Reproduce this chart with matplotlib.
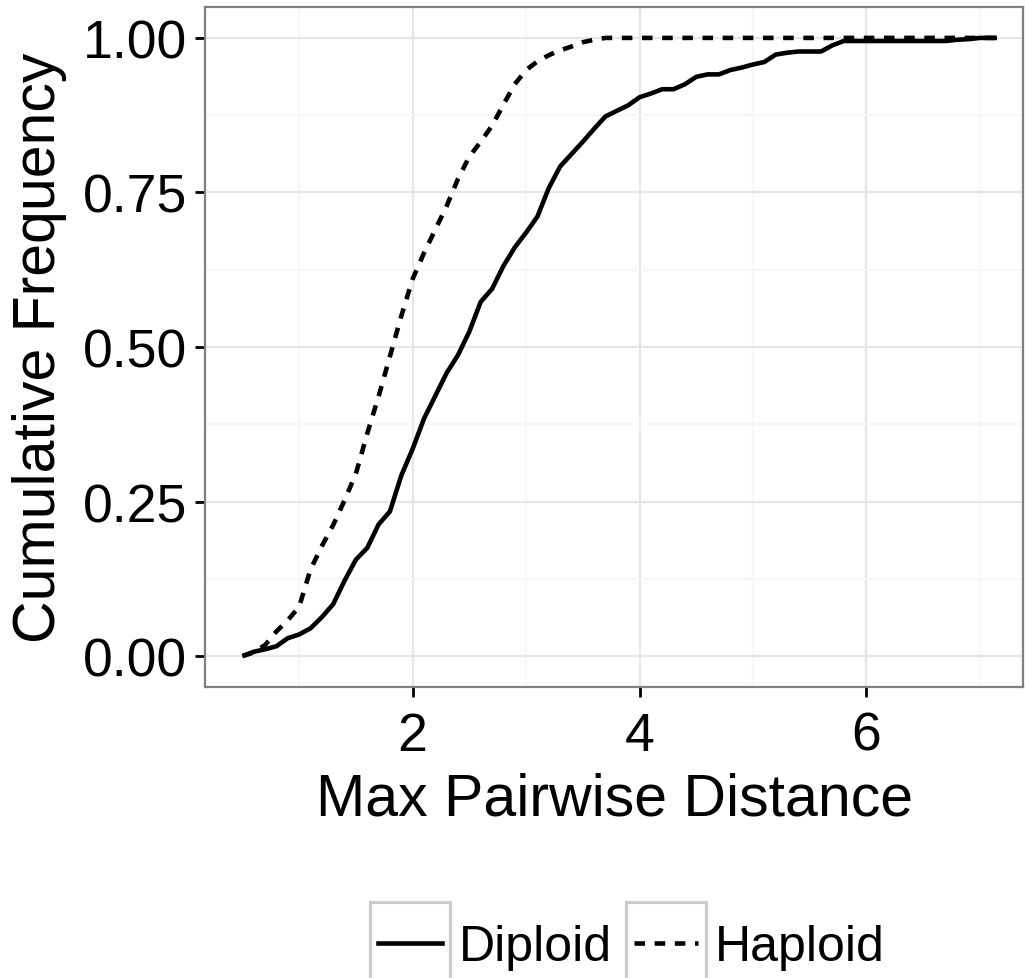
import matplotlib
matplotlib.use("Agg")
import matplotlib.pyplot as plt
from matplotlib.lines import Line2D
from matplotlib.patches import Rectangle
from matplotlib.legend_handler import HandlerBase

plt.rcParams['font.family'] = ['Liberation Sans', 'DejaVu Sans']

# --- datos ---
dip_x = [0.50, 0.60, 0.70, 0.80, 0.90, 1.00, 1.10, 1.20, 1.30, 1.40, 1.50, 1.60,
         1.70, 1.80, 1.90, 2.00, 2.10, 2.20, 2.30, 2.40, 2.50, 2.60, 2.70, 2.80,
         2.90, 3.00, 3.10, 3.20, 3.30, 3.40, 3.50, 3.60, 3.70, 3.80, 3.90, 4.00,
         4.10, 4.20, 4.30, 4.40, 4.50, 4.60, 4.70, 4.80, 4.90, 5.00, 5.10, 5.20,
         5.30, 5.40, 5.60, 5.70, 5.80, 6.70, 6.80, 6.90, 7.00, 7.15]
dip_y = [0.000, 0.007, 0.011, 0.016, 0.029, 0.035, 0.045, 0.063, 0.084, 0.122, 0.156, 0.175,
         0.213, 0.234, 0.292, 0.335, 0.384, 0.421, 0.458, 0.487, 0.525, 0.573, 0.594, 0.631,
         0.661, 0.685, 0.711, 0.757, 0.792, 0.812, 0.832, 0.853, 0.873, 0.882, 0.891, 0.904,
         0.910, 0.917, 0.917, 0.925, 0.937, 0.941, 0.941, 0.948, 0.952, 0.957, 0.961, 0.973,
         0.976, 0.978, 0.978, 0.988, 0.995, 0.995, 0.997, 0.998, 1.000, 1.000]

hap_x = [0.50, 0.60, 0.70, 0.80, 0.90, 1.00, 1.10, 1.20, 1.30, 1.40, 1.50, 1.60,
         1.70, 1.80, 1.90, 2.00, 2.10, 2.20, 2.30, 2.40, 2.50, 2.60, 2.70, 2.80,
         2.90, 3.00, 3.10, 3.20, 3.30, 3.40, 3.50, 3.60, 3.70, 7.15]
hap_y = [0.000, 0.006, 0.018, 0.040, 0.058, 0.080, 0.140, 0.178, 0.212, 0.252, 0.295, 0.360,
         0.420, 0.485, 0.550, 0.610, 0.652, 0.690, 0.728, 0.772, 0.808, 0.832, 0.858, 0.892,
         0.925, 0.948, 0.962, 0.972, 0.980, 0.986, 0.993, 0.997, 1.000, 1.000]

etiquetas = ['Diploid', 'Haploid']
y_ticks = [0.0, 0.25, 0.5, 0.75, 1.0]
y_ticklabels = ['0.00', '0.25', '0.50', '0.75', '1.00']
x_ticks = [2, 4, 6]

LW = 3.3
DASH = (2.3, 2.1)


# Leyenda estilo ggplot: cuadro gris con la linea adentro
class CajaLinea(HandlerBase):
    def create_artists(self, legend, orig_handle, xdescent, ydescent,
                       width, height, fontsize, trans):
        caja = Rectangle((-xdescent, -ydescent - height * 0.38), width, height * 1.76,
                         fill=False, edgecolor='#cccccc', linewidth=2.2, transform=trans)
        ym = -ydescent + height / 2
        linea = Line2D([-xdescent + width * 0.1, -xdescent + width * 0.9], [ym, ym],
                       color='black', linewidth=LW, transform=trans)
        if orig_handle.get_linestyle() != '-':
            linea.set_dashes(DASH)
        return [caja, linea]


fig = plt.figure(figsize=(10.25, 9.79), dpi=100)
ax = fig.add_axes([205 / 1025, 1 - 688 / 979, 818 / 1025, 680 / 979])

l1, = ax.plot(dip_x, dip_y, color='black', linewidth=LW, solid_capstyle='butt')
l2, = ax.plot(hap_x, hap_y, color='black', linewidth=LW, linestyle='--',
              dashes=DASH, dash_capstyle='butt')

ax.set_xlim(0.17, 7.38)
ax.set_ylim(-0.05, 1.05)

ax.set_xticks(x_ticks)
ax.set_xticks([1, 3, 5, 7], minor=True)
ax.set_yticks(y_ticks)
ax.set_yticklabels(y_ticklabels)
ax.set_yticks([0.125, 0.375, 0.625, 0.875], minor=True)

ax.grid(True, which='major', color='#e6e6e6', linewidth=1.6)
ax.grid(True, which='minor', color='#f7f7f7', linewidth=1.6)
ax.set_axisbelow(True)

for s in ax.spines.values():
    s.set_color('#7f7f7f')
    s.set_linewidth(1.6)

ax.tick_params(which='major', length=7, width=2, color='black',
               labelsize=38.5, labelcolor='black')
ax.tick_params(axis='x', pad=10)
ax.tick_params(axis='y', pad=6)
ax.tick_params(which='minor', length=0)

ax.set_xlabel('Max Pairwise Distance', fontsize=42.5)
ax.set_ylabel('Cumulative Frequency', fontsize=42.5)
ax.xaxis.set_label_coords(0.5, -0.125)
ax.yaxis.set_label_coords(-0.169, 0.5)

fig.legend([l1, l2], etiquetas, loc='center', bbox_to_anchor=(0.612, 0.034),
           ncol=2, frameon=False, fontsize=36, handler_map={Line2D: CajaLinea()},
           handlelength=1.6, handleheight=1.05, handletextpad=0.17,
           columnspacing=0.28, borderpad=0, borderaxespad=0)

plt.savefig('out.png', dpi=100)
